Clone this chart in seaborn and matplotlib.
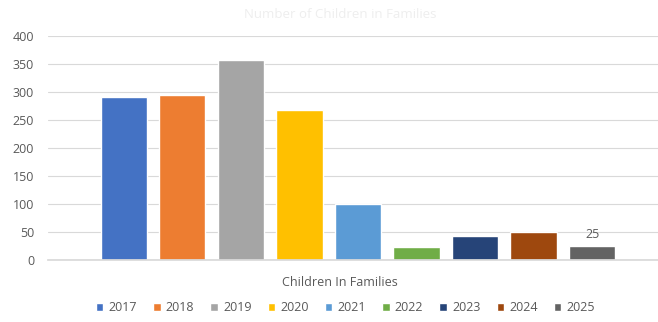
import matplotlib
matplotlib.use("Agg")
import matplotlib.pyplot as plt
import seaborn as sns
import pandas as pd
from matplotlib.patches import Patch

categories = ["Children In Families"]
years = ["2017", "2018", "2019", "2020", "2021", "2022", "2023", "2024", "2025"]
values = [291, 295, 358, 267, 100, 23, 42, 49, 25]
colors = ["#4472C4", "#ED7D31", "#A5A5A5", "#FFC000", "#5B9BD5",
          "#70AD47", "#264478", "#9E480E", "#636363"]
yticks = [0, 50, 100, 150, 200, 250, 300, 350, 400]

df = pd.DataFrame({"category": categories * len(years), "year": years, "value": values})

sns.set_theme(style="white")
plt.rcParams['font.family'] = ['Open Sans', 'DejaVu Sans']

fig = plt.figure(figsize=(6.58, 3.22), dpi=100)
ax = fig.add_axes([48 / 658, 0.193, 610 / 658, 0.695])

sns.barplot(data=df, x="category", y="value", hue="year", palette=colors,
            width=0.85, gap=0.21, ax=ax, legend=False, saturation=1)

ax.set_ylim(0, 400)
ax.set_xlim(-0.5, 0.484)
ax.set_yticks(yticks)
ax.yaxis.grid(True, color="#D9D9D9", linewidth=0.8)
ax.set_axisbelow(True)
for s in ["top", "right", "left"]:
    ax.spines[s].set_visible(False)
ax.spines["bottom"].set_color("#D9D9D9")
ax.tick_params(axis="y", labelsize=9, colors="#595959", length=0, pad=10)
ax.tick_params(axis="x", length=0)
ax.set_xticklabels([])
ax.set_ylabel("")
ax.set_xlabel("Children In Families", fontsize=9, color="#595959", labelpad=8)
ax.xaxis.set_label_coords(0.297 / 0.984 * 0 + (340 - 48) / 610, -0.07)

# data label on last bar
last = ax.patches[len(years) - 1]
ax.text(last.get_x() + last.get_width() / 2, last.get_height() + 8, str(values[-1]),
        ha="center", va="bottom", fontsize=9, color="#595959")

fig.text(0.517, 0.955, "Number of Children in Families", ha="center", va="center",
         fontsize=9.5, color="#EEEEEE")

handles = [Patch(facecolor=c, label=y) for c, y in zip(colors, years)]
fig.legend(handles=handles, loc="lower center", ncol=9, frameon=False,
           bbox_to_anchor=(0.525, -0.01), fontsize=9, handlelength=0.6, handleheight=0.6,
           handletextpad=0.4, columnspacing=1.3, labelcolor="#595959")

fig.savefig("out.png", dpi=100)
